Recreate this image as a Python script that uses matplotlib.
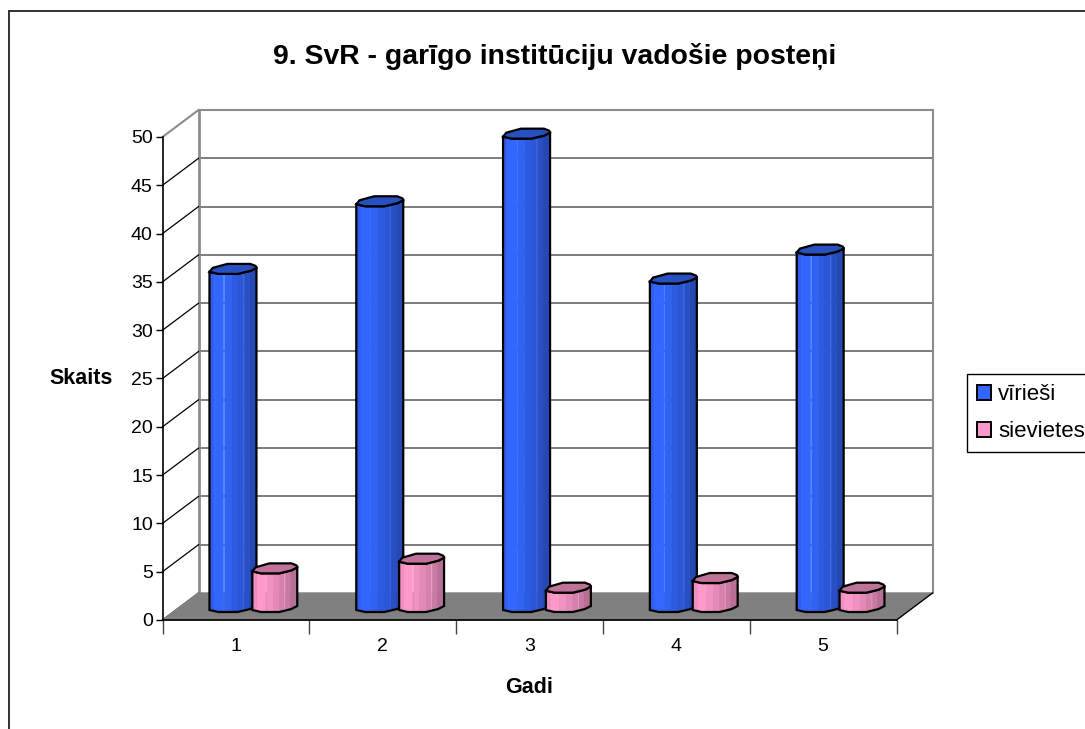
import numpy as np
import matplotlib
matplotlib.use('Agg')
import matplotlib.pyplot as plt
from matplotlib.patches import Rectangle, Patch

plt.rcParams['font.family'] = ['Liberation Sans', 'DejaVu Sans']

# Dati
gadi = ['1', '2', '3', '4', '5']
virieSi = [35, 42, 49, 34, 37]
sievietes = [4, 5, 2, 3, 2]
yticks = list(range(0, 55, 5))

W, H = 1085, 729
fig = plt.figure(figsize=(W / 100, H / 100), dpi=100)

# ramis ap visu attelu
fig.add_artist(Rectangle((9 / W, -0.01), 1.01, 1 - 11 / H + 0.01, transform=fig.transFigure,
                         fill=False, ec='#222222', lw=1.3))

# asis = prieksejais plakne, pikseli 162..896 un 620..137
ax = fig.add_axes([162.5 / W, 1 - 620 / H, 734 / W, 483 / H])
ax.set_xlim(0, 5)
ax.set_ylim(0, 50)
ax.patch.set_visible(False)

px = 5 / 734   # viens pikselis x virziena
py = 50 / 483  # viens pikselis y virziena
dzx = 36 * px  # dziluma nobide
dzy = 27 * py

# gride
grida = '#666666'
pelek = '#8c8c8c'
for t in yticks[1:-1]:
    ax.plot([dzx, 5 + dzx], [t + dzy, t + dzy], color=grida, lw=1.2, clip_on=False, zorder=1)
ax.plot([dzx, 5 + dzx], [50 + dzy, 50 + dzy], color=pelek, lw=1.5, clip_on=False, zorder=1)
ax.plot([dzx, dzx], [dzy, 50 + dzy], color=pelek, lw=2, clip_on=False, zorder=1)
ax.plot([5 + dzx, 5 + dzx], [dzy, 50 + dzy], color=pelek, lw=1.5, clip_on=False, zorder=1)

# gridas
for t in yticks[:-1]:
    ax.plot([0, dzx], [t, t + dzy], color='black', lw=0.9, clip_on=False, zorder=1)
ax.plot([0, dzx], [50, 50 + dzy], color=pelek, lw=1.5, clip_on=False, zorder=1)

# gridas pamatne
ax.fill([0, 5, 5 + dzx, dzx], [0, 0, dzy, dzy], color='#808080', zorder=2, clip_on=False)
ax.plot([5, 5 + dzx], [0, dzy], color='black', lw=0.9, clip_on=False, zorder=2)

# astonstura forma: u = dala no platuma, v = pikseli uz augsu
prieksa_u = np.array([0, 0.19, 0.60, 0.87, 1.0])
prieksa_v = np.array([0, -2, -2, 1, 4])
aizm_u = np.array([1.0, 0.98, 0.87, 0.38, 0.07, 0])
aizm_v = np.array([4, 6, 8, 8, 4, 0])

strip_u = [0, 0.1, 0.3, 0.45, 0.6, 0.72, 0.74, 0.85, 1.0]
zilie = ['#2f5eec', '#3366ff', '#3062f4', '#2c5ae0', '#2a56d8', '#3a66e0', '#2850c4', '#2448b4']
roza = ['#f08fc0', '#ff99cc', '#f292c2', '#e58ab7', '#d880ad', '#e8a0c4', '#c87aa2', '#b86f95']


def stabs(x0, plat, vert, krasas, vaks, z):
    # stabs stav uz gridas, tapec abi gali ir nobiditi uz augsu
    apaks = 10 * py
    aug = vert + 10 * py
    for i in range(len(krasas)):
        u = np.array([strip_u[i], strip_u[i + 1]])
        v = np.interp(u, prieksa_u, prieksa_v) * py
        xs = x0 + u * plat
        ax.fill([xs[0], xs[1], xs[1], xs[0]],
                [apaks + v[0], apaks + v[1], aug + v[1], aug + v[0]],
                color=krasas[i], lw=0.4, zorder=z, clip_on=False)
    # kontura
    xk = np.r_[x0 + prieksa_u * plat, x0 + prieksa_u[::-1] * plat]
    yk = np.r_[apaks + prieksa_v * py, aug + prieksa_v[::-1] * py]
    ax.fill(xk, yk, fc='none', ec='black', lw=1.6, zorder=z + 0.1, clip_on=False)
    # vaks
    ax.fill(np.r_[x0 + prieksa_u * plat, x0 + aizm_u * plat],
            np.r_[aug + prieksa_v * py, aug + aizm_v * py],
            fc=vaks, ec='black', lw=1.6, zorder=z + 0.2, clip_on=False)


for i in range(len(gadi)):
    stabs(i + 0.32, 0.32, virieSi[i], zilie, '#2850c0', 3 + i)
    stabs(i + 0.612, 0.306, sievietes[i], roza, '#c0739a', 3.5 + i)

# asis
for s in ['top', 'right']:
    ax.spines[s].set_visible(False)
ax.spines['left'].set_linewidth(1.2)
ax.spines['bottom'].set_linewidth(1.2)
ax.set_yticks(yticks)
ax.tick_params(axis='y', length=5, width=1, labelsize=14, pad=2)
ax.set_xticks(range(6))
ax.set_xticklabels([])
ax.tick_params(axis='x', which='major', length=10, width=1, color='#444444')
ax.set_xticks(np.arange(5) + 0.5, minor=True)
ax.set_xticklabels(gadi, minor=True)
ax.tick_params(axis='x', which='minor', length=0, labelsize=14, pad=13)

ax.set_xlabel('Gadi', fontsize=15.5, fontweight='bold')
ax.xaxis.set_label_coords(0.5, -0.118)
ax.set_ylabel('Skaits', fontsize=15.5, fontweight='bold', rotation=0, va='center', ha='center')
ax.yaxis.set_label_coords(-0.111, 0.5)

fig.text(555 / W, 1 - 57 / H, '9. SvR - garīgo institūciju vadošie posteņi',
         fontsize=20.4, fontweight='bold', ha='center', va='center')

# legenda
fig.legend(handles=[Patch(fc='#3366ff', ec='black', lw=1.4, label='vīrieši'),
                    Patch(fc='#ff99cc', ec='black', lw=1.4, label='sievietes')],
           loc='upper left', bbox_to_anchor=(967 / W, 1 - 374 / H), fontsize=16,
           fancybox=False, framealpha=1, edgecolor='black', handlelength=0.63, handleheight=0.63,
           handletextpad=0.3, labelspacing=0.72, borderpad=0.46, borderaxespad=0)

fig.savefig('out.png', dpi=100)
